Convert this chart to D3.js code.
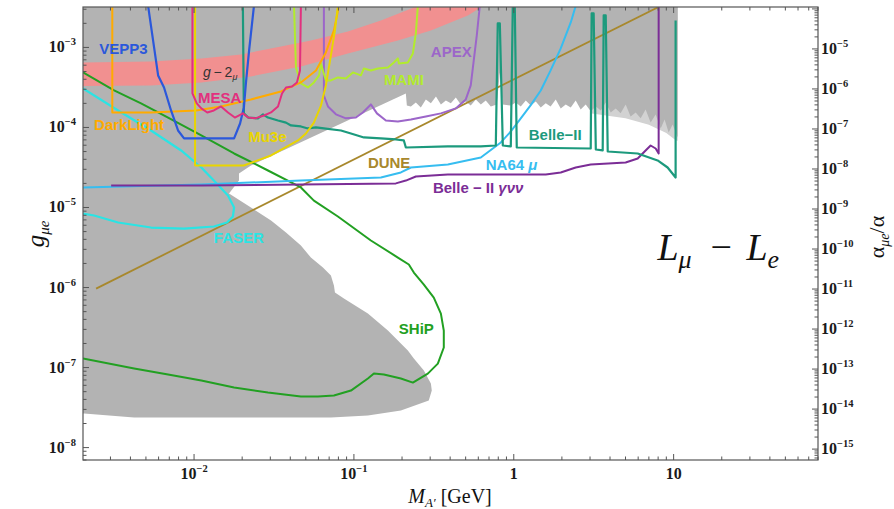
<!DOCTYPE html>
<html><head><meta charset="utf-8">
<script src="https://cdn.jsdelivr.net/npm/d3@7/dist/d3.min.js"></script>
<style>body{margin:0;background:#fff}svg{display:block}</style>
</head><body>
<svg id="chart" width="894" height="509"></svg>
<script>
// ---------------- DATA (mass in GeV, coupling g_{mu e}) ----------------
const xTickValues = [0.01, 0.1, 1, 10];
const yTickValues = [1e-8, 1e-7, 1e-6, 1e-5, 1e-4, 1e-3];
const rightTickValues = [1e-15,1e-14,1e-13,1e-12,1e-11,1e-10,1e-9,1e-8,1e-7,1e-6,1e-5];

// grey excluded region: jagged lower edge of the upper region (right -> left)
const exclusionUpperEdge = [
 [10.6,1e-2],[10.6,7.5e-5],[9.86,1.09e-4],[9.31,8.66e-5],[8.78,1.26e-4],[8.30,9.72e-5],[7.72,1.45e-4],
 [7.18,1.15e-4],[6.68,1.68e-4],[6.22,1.30e-4],[5.79,1.54e-4],[5.38,1.37e-4],[5.01,1.93e-4],[4.66,1.50e-4],
 [4.34,1.73e-4],[4.04,1.54e-4],[3.76,2.05e-4],[3.50,1.63e-4],[3.26,1.83e-4],[3.03,1.59e-4],[2.818,1.93e-4],
 [2.622,1.68e-4],[2.44,2.17e-4],[2.272,1.78e-4],[2.113,1.93e-4],[1.967,1.73e-4],[1.83,2.24e-4],[1.70,1.83e-4],
 [1.585,2.0e-4],[1.475,1.78e-4],[1.373,2.11e-4],[1.277,1.88e-4],[1.189,2.17e-4],[1.106,1.83e-4],[1.029,2.05e-4],
 [0.958,1.88e-4],[0.854,1.93e-4],[0.818,4.87e-4],[0.783,1.93e-4],[0.718,1.83e-4],[0.668,2.17e-4],[0.622,1.94e-4],
 [0.579,2.24e-4],[0.538,1.88e-4],[0.501,2.11e-4],[0.466,1.94e-4],[0.434,2.37e-4],[0.404,2.0e-4],[0.376,2.17e-4],
 [0.350,1.94e-4],[0.326,2.44e-4],[0.303,2.0e-4],[0.2818,2.24e-4],[0.2622,1.78e-4],[0.244,2.05e-4],[0.2272,1.83e-4],
 [0.2144,1.88e-4],[0.2113,2.66e-4]
];
// light fringe of the excluded region near its high-mass end
const exclusionFringe = [[3.0,1.5e-4],[5.0,1.3e-4],[7.0,1.08e-4],[9.0,8.5e-5],[10.4,6.8e-5],[10.6,6.8e-5],[10.6,1e-2],[3.0,1e-2]];
// edge around the allowed gap and along the base of the beam-dump region
const exclusionGapEdge = [
 [0.0227,3.35e-5],[0.0191,2.66e-5],[0.0191,2.17e-5],[0.01655,1.50e-5],[0.0227,1.0e-5],[0.0303,6.88e-6],
 [0.0376,4.87e-6],[0.0466,3.35e-6],[0.0538,2.37e-6],[0.064,1.78e-6],[0.0718,1.41e-6],[0.075,1.06e-6],
 [0.0761,8.66e-7],[0.0866,7.29e-7],[0.1223,4.73e-7],[0.1632,2.90e-7],[0.2175,1.63e-7],[0.2371,1.30e-7],
 [0.2739,9.17e-8],[0.303,6.31e-8],[0.307,5.16e-8],[0.294,3.87e-8],[0.1967,2.90e-8],[0.1223,2.51e-8],
 [0.0718,2.37e-8],[0.00422,2.37e-8],[0.00205,2.66e-8],[0.001,2.7e-8],[0.001,1e-2]
];
// g-2 band
const g2Upper = [[0.001,6.31e-4],[0.00538,6.68e-4],[0.0111,7.29e-4],[0.0197,8.18e-4],[0.035,1.03e-3],[0.0538,1.22e-3],
 [0.0917,1.585e-3],[0.1475,2.175e-3],[0.2371,3.16e-3],[0.2818,3.87e-3]];
const g2Lower = [[0.83,3.87e-3],[0.622,3.16e-3],[0.516,2.51e-3],[0.303,1.63e-3],[0.1884,1.22e-3],[0.0917,8.41e-4],
 [0.0466,5.79e-4],[0.0227,4.34e-4],[0.0111,3.65e-4],[0.00538,3.35e-4],[0.001,3.25e-4]];

const vepp3 = [[0.00516,3.3e-3],[0.00596,4.47e-4],[0.00649,3.16e-4],[0.00718,1.63e-4],[0.00794,9.17e-5],[0.00866,7.29e-5],
 [0.0178,7.29e-5],[0.0194,1.12e-4],[0.0205,1.78e-4],[0.0211,3.55e-4],[0.0221,9.17e-4],[0.0237,3.3e-3]];
const mesa = [[0.00977,3.3e-3],[0.00977,2.66e-4],[0.0104,2.0e-4],[0.0111,1.73e-4],[0.0121,1.54e-4],[0.0133,1.63e-4],
 [0.01475,1.83e-4],[0.0163,1.54e-4],[0.0180,1.33e-4],[0.0202,1.50e-4],[0.0218,1.33e-4],[0.0241,1.30e-4],[0.0274,1.41e-4],
 [0.0303,1.54e-4],[0.0335,1.83e-4],[0.0355,2.66e-4],[0.0376,3.16e-4],[0.041,3.25e-4],[0.044,3.65e-4],[0.046,5.16e-4],[0.0466,3.3e-3]];
const darkLight = [[0.00308,3.3e-3],[0.00308,1.54e-4],[0.00538,1.54e-4],[0.0103,1.63e-4],[0.01475,1.83e-4],[0.0227,2.24e-4],
 [0.035,2.82e-4],[0.0466,3.65e-4],[0.0579,5.16e-4],[0.0668,8.66e-4],[0.075,1.63e-3],[0.0806,3.3e-3]];
const mu3e = [[0.01015,3.3e-3],[0.01015,3.35e-5],[0.0205,3.35e-5],[0.0303,4.47e-5],[0.0447,6.88e-5],[0.0501,8.41e-5],
 [0.0562,1.15e-4],[0.0622,1.88e-4],[0.0668,3.35e-4],[0.0718,7.94e-4],[0.0761,1.63e-3],[0.0794,3.3e-3]];
const mami = [[0.0422,3.3e-3],[0.0434,5.62e-4],[0.0466,3.55e-4],[0.0516,3.16e-4],[0.0562,3.65e-4],[0.0605,4.47e-4],
 [0.0622,6.31e-4],[0.064,5.16e-4],[0.0668,3.87e-4],[0.0718,3.87e-4],[0.0794,4.22e-4],[0.0891,4.10e-4],[0.0986,4.87e-4],
 [0.1106,4.47e-4],[0.1155,5.46e-4],[0.1277,5.16e-4],[0.1413,5.46e-4],[0.1632,5.62e-4],[0.1778,6.49e-4],[0.1884,7.29e-4],
 [0.1911,6.31e-4],[0.2175,6.49e-4],[0.2338,8.41e-4],[0.244,1.50e-3],[0.2512,3.3e-3]];
const apex = [[0.0649,3.3e-3],[0.0649,2.51e-4],[0.0688,1.83e-4],[0.0772,1.46e-4],[0.0891,1.30e-4],[0.1029,1.33e-4],
 [0.1138,1.54e-4],[0.1277,1.94e-4],[0.1393,1.50e-4],[0.1585,1.22e-4],[0.1884,1.19e-4],[0.2272,1.26e-4],[0.2818,1.37e-4],
 [0.350,1.50e-4],[0.434,1.73e-4],[0.501,2.24e-4],[0.538,3.35e-4],[0.562,6.88e-4],[0.587,1.41e-3],[0.613,3.3e-3]];
const belle2 = [[0.0202,3.3e-3],[0.0205,1.50e-4],[0.0218,1.33e-4],[0.0251,1.30e-4],[0.027,1.46e-4],[0.029,1.33e-4],
 [0.0335,1.22e-4],[0.0376,1.15e-4],[0.0404,1.06e-4],[0.0466,1.03e-4],[0.0516,9.72e-5],[0.0579,1.0e-4],[0.0649,9.72e-5],
 [0.083,9.17e-5],[0.0958,8.41e-5],[0.1155,7.50e-5],[0.1475,7.29e-5],[0.183,7.08e-5],[0.2053,6.88e-5],[0.2113,5.62e-5],
 [0.387,5.79e-5],[0.622,5.79e-5],[0.772,5.95e-5],[0.794,1.995e-3],[0.818,1.995e-3],[0.854,5.95e-5],[0.958,5.79e-5],
 [0.986,3.3e-3],[1.0145,3.3e-3],[1.044,5.62e-5],[3.03,5.46e-5],[3.07,2.66e-3],[3.16,2.66e-3],[3.26,5.31e-5],[3.60,5.16e-5],
 [3.652,2.51e-3],[3.76,2.51e-3],[3.87,5.01e-5],[5.96,4.73e-5],[7.94,3.87e-5],[9.17,3.16e-5],[10.29,2.37e-5],[10.29,2.175e-3]];
const na64mu = [[0.00202,1.78e-5],[0.0111,1.94e-5],[0.0466,2.17e-5],[0.1475,2.37e-5],[0.1967,2.74e-5],[0.2272,3.16e-5],
 [0.387,3.45e-5],[0.622,4.22e-5],[0.83,6.5e-5],[0.958,8.9e-5],[1.106,1.30e-4],[1.277,1.9e-4],[1.475,2.9e-4],[1.70,5.16e-4],
 [1.967,9.72e-4],[2.272,2.05e-3],[2.44,3.3e-3]];
const belle2Invisible = [[0.00303,1.88e-5],[0.0111,1.88e-5],[0.0466,1.94e-5],[0.183,2.0e-5],[0.2113,2.17e-5],[0.244,2.44e-5],
 [0.387,2.59e-5],[1.585,2.59e-5],[1.967,2.74e-5],[2.44,3.16e-5],[3.03,3.45e-5],[5.01,3.65e-5],[5.96,4.10e-5],[6.68,5.16e-5],
 [7.18,5.95e-5],[7.72,5.46e-5],[8.06,4.73e-5],[8.06,3.3e-3]];
const dune = [[0.00244,9.7e-7],[7.94,3.16e-3]];
const faser = [[0.00202,3.07e-4],[0.00335,1.63e-4],[0.00538,9.17e-5],[0.0083,5.16e-5],[0.0111,3.16e-5],[0.0133,2.17e-5],
 [0.0163,1.41e-5],[0.0178,1.0e-5],[0.0175,7.72e-6],[0.0161,6.49e-6],[0.0133,5.79e-6],[0.00866,5.46e-6],[0.00538,5.62e-6],
 [0.00335,6.49e-6],[0.00237,7.94e-6],[0.00202,8.41e-6]];
const ship = [[0.00202,4.87e-4],[0.00316,2.90e-4],[0.00466,2.0e-4],[0.00688,1.33e-4],[0.0111,7.94e-5],[0.0178,4.73e-5],
 [0.029,2.90e-5],[0.0466,1.78e-5],[0.0562,1.22e-5],[0.0794,7.72e-6],[0.1277,3.87e-6],[0.1884,2.37e-6],[0.2206,1.94e-6],
 [0.2371,1.54e-6],[0.2739,1.09e-6],[0.316,7.50e-7],[0.350,4.73e-7],[0.365,2.90e-7],[0.365,1.78e-7],[0.335,1.12e-7],
 [0.2899,8.41e-8],[0.2338,6.49e-8],[0.1967,7.29e-8],[0.154,8.18e-8],[0.1334,8.41e-8],[0.1223,7.29e-8],[0.0958,5.16e-8],
 [0.075,4.47e-8],[0.0596,4.35e-8],[0.0466,4.35e-8],[0.029,4.87e-8],[0.0178,5.62e-8],[0.0111,6.88e-8],[0.00688,8.18e-8],
 [0.00422,9.72e-8],[0.00202,1.30e-7]];

// ---------------- DRAWING ----------------
const svg = d3.select('#chart');
const L = 83, R = 818, T = 7, B = 460;
const x = d3.scaleLog().domain([0.00202, 80]).range([L, R]);
const y = d3.scaleLog().domain([7e-9, 3.2e-3]).range([B, T]);
const alphaEM = 1/137.036;
const toRatio = g => g*g/(4*Math.PI*alphaEM);
const yr = d3.scaleLog().domain([toRatio(7e-9), toRatio(3.2e-3)]).range([B, T]);

svg.append('defs').append('clipPath').attr('id','clip')
  .append('rect').attr('x',L).attr('y',T).attr('width',R-L).attr('height',B-T);
const plot = svg.append('g').attr('clip-path','url(#clip)');

const line = d3.line().x(d=>x(d[0])).y(d=>y(d[1]));

plot.append('path').attr('d', line(exclusionFringe) + 'Z').attr('fill','#d2d2d2').attr('stroke','none');
plot.append('path').attr('d', line(exclusionUpperEdge.concat(exclusionGapEdge)) + 'Z')
  .attr('fill','#b3b3b3').attr('stroke','none');
plot.append('path').attr('d', line(g2Upper.concat(g2Lower)) + 'Z')
  .attr('fill','#f19090').attr('stroke','none');

const series = [
  {d: dune, c:'#a8882c', w:1.8},
  {d: ship, c:'#22a022', w:2},
  {d: faser, c:'#2ae4e4', w:2.2},
  {d: na64mu, c:'#36bdf0', w:2},
  {d: belle2Invisible, c:'#7b2d96', w:2},
  {d: apex, c:'#9c66c9', w:2},
  {d: belle2, c:'#1c9a7d', w:2.2},
  {d: mami, c:'#b2ec2c', w:2},
  {d: darkLight, c:'#ffab00', w:2},
  {d: mu3e, c:'#e9d500', w:2},
  {d: vepp3, c:'#2b58db', w:2.2},
  {d: mesa, c:'#e2307e', w:2}
];
series.forEach(s => plot.append('path').attr('d', line(s.d)).attr('fill','none')
  .attr('stroke', s.c).attr('stroke-width', s.w).attr('stroke-linejoin','round'));

// ---------- labels ----------
const sans = '"Liberation Sans", Arial, sans-serif';
const serif = '"Liberation Serif", "Times New Roman", serif';
const ann = svg.append('g').attr('font-family', sans).attr('font-weight','bold').attr('font-size',15);
function lab(txt, m, g, col, extra){
  const t = ann.append('text').attr('x', x(m)).attr('y', y(g)).attr('fill', col);
  if (extra) extra(t); else t.text(txt);
  return t;
}
lab('VEPP3', 0.00255, 8.18e-4, '#2b58db');
lab('MESA', 0.0106, 2.0e-4, '#e2307e');
lab('DarkLight', 0.00237, 9.17e-5, '#ffab00');
lab('Mu3e', 0.0218, 6.5e-5, '#e9d500');
lab('MAMI', 0.154, 3.35e-4, '#b2ec2c');
lab('APEX', 0.303, 7.5e-4, '#9c66c9');
lab('Belle\u2212II', 1.241, 6.88e-5, '#1c9a7d');
lab('DUNE', 0.1223, 3.16e-5, '#a8882c');
lab('', 0.668, 2.9e-5, '#36bdf0', t => { t.append('tspan').text('NA64 '); t.append('tspan').attr('font-style','italic').text('\u03bc'); });
lab('', 0.312, 1.5e-5, '#7b2d96', t => { t.append('tspan').text('Belle \u2212 II '); t.append('tspan').attr('font-style','italic').text('\u03b3\u03bd\u03bd'); });
lab('FASER', 0.0133, 3.55e-6, '#2ae4e4');
lab('SHiP', 0.191, 2.66e-7, '#22a022');
// g-2 label
{
  const t = svg.append('text').attr('x', x(0.01138)).attr('y', y(4.22e-4)).attr('fill','#333')
    .attr('font-family', sans).attr('font-size', 14);
  t.append('tspan').attr('font-style','italic').text('g');
  t.append('tspan').text('\u2009\u2212\u20092');
  t.append('tspan').attr('font-style','italic').attr('font-size',9).attr('dy',3).text('\u03bc');
}
// L_mu - L_e
{
  const gx = x(7.94), gy = y(2.18e-6);
  const g = svg.append('g').attr('font-family', serif).attr('fill','#111');
  g.append('text').attr('x',gx).attr('y',gy).attr('font-size',38).attr('font-style','italic').text('L');
  g.append('text').attr('x',gx+21).attr('y',gy+8).attr('font-size',26).attr('font-style','italic').text('\u03bc');
  g.append('text').attr('x',gx+53).attr('y',gy).attr('font-size',38).text('\u2212');
  g.append('text').attr('x',gx+89).attr('y',gy).attr('font-size',38).attr('font-style','italic').text('L');
  g.append('text').attr('x',gx+110).attr('y',gy+8).attr('font-size',26).attr('font-style','italic').text('e');
}

// ---------- frame & ticks ----------
const frameCol = '#555';
svg.append('rect').attr('x',L).attr('y',T).attr('width',R-L).attr('height',B-T)
  .attr('fill','none').attr('stroke',frameCol).attr('stroke-width',1.2);

function logTicks(lo, hi){
  const out = [];
  for (let e = Math.floor(Math.log10(lo)); e <= Math.ceil(Math.log10(hi)); e++)
    for (let k = 1; k < 10; k++){ const v = k*Math.pow(10,e); if (v >= lo && v <= hi) out.push({v, major: k===1}); }
  return out;
}
const tk = svg.append('g').attr('stroke', frameCol).attr('stroke-width', 1);
logTicks(0.00202, 80).forEach(t => {
  const px = x(t.v), len = t.major ? 6 : 3.5;
  tk.append('line').attr('x1',px).attr('x2',px).attr('y1',B).attr('y2',B-len);
  tk.append('line').attr('x1',px).attr('x2',px).attr('y1',T).attr('y2',T+len);
});
logTicks(7e-9, 3.2e-3).forEach(t => {
  const py = y(t.v), len = t.major ? 6 : 3.5;
  tk.append('line').attr('x1',L).attr('x2',L+len).attr('y1',py).attr('y2',py);
});
logTicks(toRatio(7e-9), toRatio(3.2e-3)).forEach(t => {
  const py = yr(t.v), len = t.major ? 6 : 3.5;
  tk.append('line').attr('x1',R).attr('x2',R-len).attr('y1',py).attr('y2',py);
});

const tl = svg.append('g').attr('font-family', serif).attr('font-weight','bold').attr('font-size',16).attr('fill','#1a1a1a');
function powText(px, py, v, anchor){
  const e = Math.round(Math.log10(v));
  const t = tl.append('text').attr('x',px).attr('y',py).attr('text-anchor',anchor);
  if (e === 0) { t.text('1'); return; }
  if (e === 1) { t.text('10'); return; }
  t.append('tspan').text('10');
  t.append('tspan').attr('font-size',10.5).attr('dy',-7).text('\u2212' + Math.abs(e));
}
xTickValues.forEach(v => powText(x(v), 479, v, 'middle'));
yTickValues.forEach(v => powText(76, y(v)+5, v, 'end'));
rightTickValues.forEach(v => powText(821, yr(v)+5, v, 'start'));

// ---------- axis titles ----------
{
  const t = svg.append('text').attr('transform','translate(44,234) rotate(-90)').attr('text-anchor','middle')
    .attr('font-family', serif).attr('font-size',25).attr('fill','#111');
  t.append('tspan').attr('font-style','italic').text('g');
  t.append('tspan').attr('font-style','italic').attr('font-size',15).attr('dy',5).text('\u03bce');
}
{
  const t = svg.append('text').attr('transform','translate(884,237) rotate(-90)').attr('text-anchor','middle')
    .attr('font-family', serif).attr('font-size',22).attr('fill','#111');
  t.append('tspan').text('\u03b1');
  t.append('tspan').attr('font-style','italic').attr('font-size',14).attr('dy',5).text('\u03bce');
  t.append('tspan').attr('dy',-5).text('/\u03b1');
}
{
  const t = svg.append('text').attr('x',450).attr('y',503).attr('text-anchor','middle')
    .attr('font-family', serif).attr('font-size',20).attr('fill','#111');
  t.append('tspan').attr('font-style','italic').text('M');
  t.append('tspan').attr('font-style','italic').attr('font-size',13).attr('dy',4).text('A\u2032');
  t.append('tspan').attr('dy',-4).text(' [GeV]');
}
</script>
</body></html>
